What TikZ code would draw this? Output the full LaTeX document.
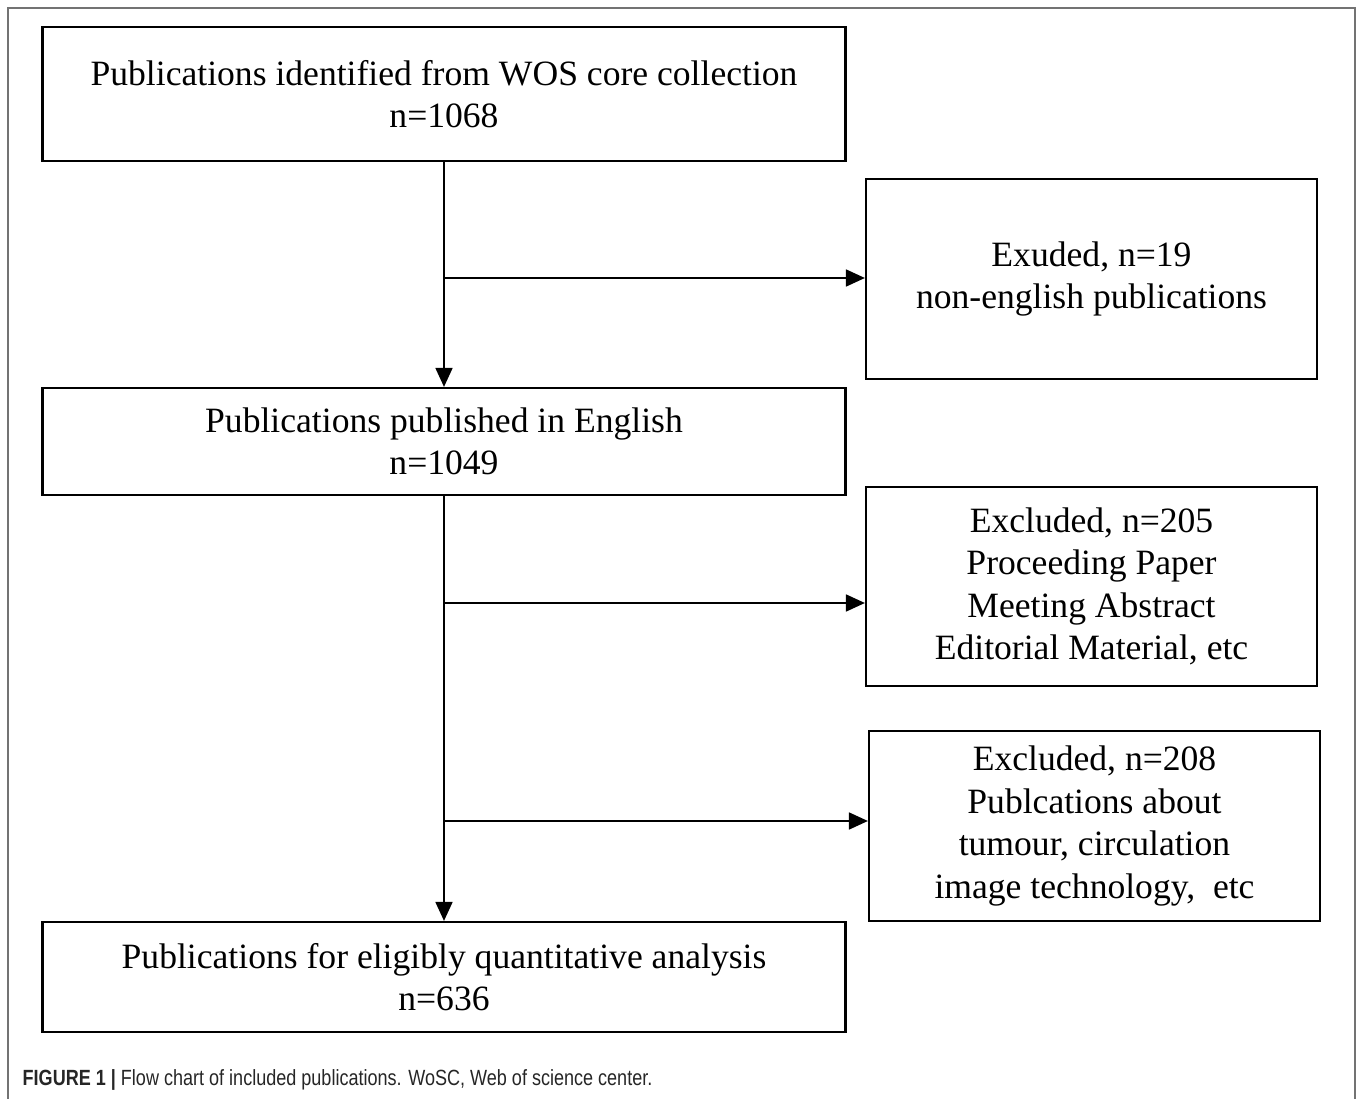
\documentclass[tikz,border=0pt]{standalone}
\usepackage{fontspec}
\setmainfont{Liberation Serif}
\newfontfamily\capfont[FakeStretch=0.82]{Liberation Sans}
\usetikzlibrary{arrows.meta}
\begin{document}
\begin{tikzpicture}[x=1pt,y=-1pt,
  box/.style={draw, line width=2.2pt, minimum width=803pt, align=center, inner sep=0pt,
    font=\fontsize{35.6}{42.5}\selectfont},
  sbox/.style={box, minimum width=451pt},
  arr/.style={line width=1.8pt, -{Triangle[length=19pt,width=17pt]}},
  frame/.style={line width=2pt, draw=black!55},
  ]
\useasboundingbox (0,0) rectangle (1358,1099);
\draw[frame] (8,1099) -- (8,8) -- (1355,8) -- (1355,1099);
\node[box, minimum height=134pt] (b1) at (444,94) {Publications identified from WOS core collection\\n=1068};
\node[sbox, minimum height=200pt] (r1) at (1091.5,279) {Exuded, n=19\\non-english publications};
\node[box, minimum height=107pt] (b2) at (444,441.5) {Publications published in English\\n=1049};
\node[sbox, minimum height=199pt] (r2) at (1091.5,586.5) {Excluded, n=205\\Proceeding Paper\\Meeting Abstract\\Editorial Material, etc};
\node[sbox, minimum height=190pt] (r3) at (1094.5,826) {Excluded, n=208\\Publcations about\\tumour, circulation\\image technology,\ \ etc};
\node[box, minimum height=110pt] (b3) at (444,977) {Publications for eligibly quantitative analysis\\n=636};
\coordinate (j1) at (444,278);
\coordinate (j2) at (444,603);
\coordinate (j3) at (444,821);
\draw[arr] (b1) -- (b2);
\draw[arr] (b2) -- (b3);
\draw[arr] (j1) -- (j1 -| r1.west);
\draw[arr] (j2) -- (j2 -| r2.west);
\draw[arr] (j3) -- (j3 -| r3.west);
\node[anchor=base west, inner sep=0pt, text=black!85, font=\capfont\fontsize{22}{26}\selectfont] (cap) at (22.5,1085)
  {\textbf{FIGURE 1 |} Flow chart of included publications. WoSC, Web of science center.};
\end{tikzpicture}
\end{document}
